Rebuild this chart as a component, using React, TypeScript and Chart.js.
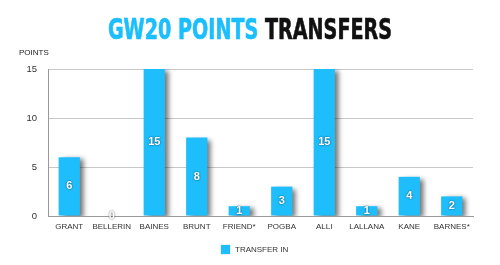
import React, { useEffect, useRef } from "react";
import { Chart, registerables } from "chart.js";

Chart.register(...registerables);

const players = ["GRANT", "BELLERIN", "BAINES", "BRUNT", "FRIEND*", "POGBA", "ALLI", "LALLANA", "KANE", "BARNES*"];
const transferInPoints = [6, 0, 15, 8, 1, 3, 15, 1, 4, 2];
const yTicks = [0, 5, 10, 15];
const seriesName = "TRANSFER IN";
const titleBlue = "GW20 POINTS";
const titleBlack = "TRANSFERS";
const yAxisTitle = "POINTS";

const BLUE = "#1EBEFC";
const FONT = "'Liberation Sans', Arial, sans-serif";

const shadowPlugin = {
  id: "barShadow",
  beforeDatasetsDraw(chart: any) {
    const ctx = chart.ctx;
    ctx.save();
    ctx.shadowColor = "rgba(0,0,0,0.55)";
    ctx.shadowBlur = 5;
    ctx.shadowOffsetX = 4;
    ctx.shadowOffsetY = 2;
  },
  afterDatasetsDraw(chart: any) {
    chart.ctx.restore();
    const ctx = chart.ctx;
    const meta = chart.getDatasetMeta(0);
    ctx.save();
    ctx.font = "bold 11px " + FONT;
    ctx.textAlign = "center";
    ctx.textBaseline = "middle";
    ctx.fillStyle = "#ffffff";
    ctx.shadowColor = "rgba(0,0,0,0.7)";
    ctx.shadowBlur = 2;
    ctx.shadowOffsetX = 0;
    ctx.shadowOffsetY = 0;
    meta.data.forEach((bar: any, i: number) => {
      const v = transferInPoints[i];
      const y = v === 0 ? bar.y : (bar.y + bar.base) / 2;
      ctx.fillText(String(v), bar.x, y);
    });
    ctx.restore();
  },
};

export default function App() {
  const ref = useRef<HTMLCanvasElement | null>(null);
  useEffect(() => {
    document.body.style.margin = "0";
    const chart = new Chart(ref.current!, {
      type: "bar",
      data: {
        labels: players,
        datasets: [
          {
            label: seriesName,
            data: transferInPoints,
            backgroundColor: BLUE,
            borderWidth: 0,
            barPercentage: 0.5,
            categoryPercentage: 1,
          },
        ],
      },
      options: {
        animation: false,
        responsive: false,
        maintainAspectRatio: false,
        layout: { padding: { top: 69, right: 27, bottom: 0, left: 0 } },
        plugins: {
          legend: { display: false },
          tooltip: { enabled: false },
        },
        scales: {
          x: {
            grid: { display: false, drawTicks: false },
            border: { color: "#999", width: 1 },
            ticks: {
              color: "#333",
              font: { size: 8, family: FONT },
              padding: 6,
              maxRotation: 0,
              autoSkip: false,
            },
            afterFit: (s: any) => {
              s.height = 49;
            },
          },
          y: {
            min: 0,
            max: 15,
            afterBuildTicks: (s: any) => {
              s.ticks = yTicks.map((v) => ({ value: v }));
            },
            grid: { color: "#c8c8c8", drawTicks: false, lineWidth: 1 },
            border: { color: "#999", width: 1 },
            ticks: {
              color: "#333",
              font: { size: 9.5, family: FONT },
              padding: 11,
            },
            afterFit: (s: any) => {
              s.width = 48;
            },
          },
        },
      },
      plugins: [shadowPlugin],
    });
    return () => chart.destroy();
  }, []);

  return (
    <div style={{ position: "relative", width: 500, height: 265, background: "#fff" }}>
      <canvas ref={ref} width={500} height={265} style={{ position: "absolute", left: 0, top: 0 }} />
      <div
        style={{
          position: "absolute",
          left: 0,
          top: 12,
          width: 500,
          textAlign: "center",
          fontFamily: "'DejaVu Sans Condensed', 'DejaVu Sans', sans-serif",
          fontStretch: "condensed",
          fontWeight: 900,
          fontSize: 28,
          lineHeight: "36px",
          whiteSpace: "nowrap",
        }}
      >
        <span style={{ display: "inline-block", transform: "scaleX(0.76)", WebkitTextStroke: "0.6px currentColor" }}>
          <span style={{ color: "#1BBEFF" }}>{titleBlue}</span>{" "}
          <span style={{ color: "#111" }}>{titleBlack}</span>
        </span>
      </div>
      <div
        style={{
          position: "absolute",
          left: 19,
          top: 48,
          fontFamily: FONT,
          fontSize: 8,
          lineHeight: "10px",
          color: "#222",
        }}
      >
        {yAxisTitle}
      </div>
      <div
        style={{
          position: "absolute",
          left: 221,
          top: 245,
          display: "flex",
          alignItems: "center",
          fontFamily: FONT,
          fontSize: 8,
          color: "#333",
          whiteSpace: "nowrap",
        }}
      >
        <span style={{ display: "inline-block", width: 9, height: 9, background: BLUE, marginRight: 5, boxShadow: "0 0 1px #8ad" }} />
        <span>{seriesName}</span>
      </div>
    </div>
  );
}
